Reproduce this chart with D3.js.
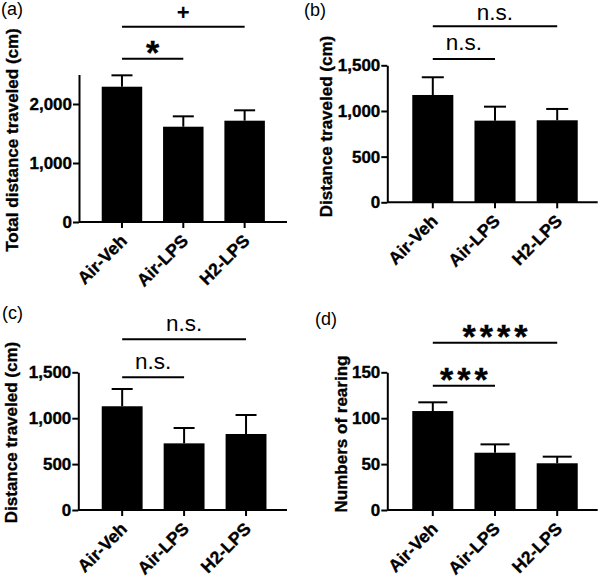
<!DOCTYPE html>
<html><head><meta charset="utf-8">
<script src="https://cdn.jsdelivr.net/npm/d3@7"></script>
<style>
body{margin:0;background:#fff}
svg{display:block}
text{font-family:"Liberation Sans",Arial,Helvetica,sans-serif}
text.heavy{stroke:#000;stroke-width:0.35px}
</style>
</head><body>
<svg id="chart" width="600" height="581"></svg>
<script>
// ---------- data ----------
const categories = ["Air-Veh", "Air-LPS", "H2-LPS"];

const meanA = [2293, 1615, 1717];
const semA  = [193, 176, 176];
const ticksA = [0, 1000, 2000];
const maxA = 2500;

const meanB = [1175, 894, 898];
const semB  = [194, 153, 124];
const ticksB = [0, 500, 1000, 1500];
const maxB = 1500;

const meanC = [1130, 726, 828];
const semC  = [188, 167, 207];
const ticksC = [0, 500, 1000, 1500];
const maxC = 1500;

const meanD = [107.8, 62.4, 50.9];
const semD  = [9.5, 9.1, 7.2];
const ticksD = [0, 50, 100, 150];
const maxD = 150;

const panelLabels = ["(a)", "(b)", "(c)", "(d)"];
const yTitles = ["Total distance traveled (cm)", "Distance traveled (cm)", "Distance traveled (cm)", "Numbers of rearing"];

// significance brackets: [from, to, level (data units), label]
const sigA = [["Air-Veh", "Air-LPS", 2768, "*"], ["Air-Veh", "H2-LPS", 3310, "+"]];
const sigB = [["Air-Veh", "Air-LPS", 1569, "n.s."], ["Air-Veh", "H2-LPS", 1927, "n.s."]];
const sigC = [["Air-Veh", "Air-LPS", 1445, "n.s."], ["Air-Veh", "H2-LPS", 1859, "n.s."]];
const sigD = [["Air-Veh", "Air-LPS", 135.4, "***"], ["Air-Veh", "H2-LPS", 182.2, "****"]];

// ---------- layout ----------
const panels = [
  {mean: meanA, sem: semA, ticks: ticksA, max: maxA, sig: sigA, label: panelLabels[0], title: yTitles[0],
   labelPos: [1, 15], titlePos: [12, 140], axisX: [79, 287], band: [91.3, 275.3], yRange: [222, 74.5], capW: 21},
  {mean: meanB, sem: semB, ticks: ticksB, max: maxB, sig: sigB, label: panelLabels[1], title: yTitles[1],
   labelPos: [304, 16], titlePos: [326, 126.5], axisX: [387.3, 597.7], band: [401.7, 588.3], yRange: [202.3, 65.3], capW: 22},
  {mean: meanC, sem: semC, ticks: ticksC, max: maxC, sig: sigC, label: panelLabels[2], title: yTitles[2],
   labelPos: [2, 319], titlePos: [11, 432.5], axisX: [78.3, 287], band: [91.2, 277], yRange: [510, 372.3], capW: 21},
  {mean: meanD, sem: semD, ticks: ticksD, max: maxD, sig: sigD, label: panelLabels[3], title: yTitles[3],
   labelPos: [315, 324.5], titlePos: [341, 434], axisX: [387.3, 597.7], band: [401.7, 588.3], yRange: [510, 372.3], capW: 29}
];

const svg = d3.select("#chart");
const fmt = d3.format(",");
const FONT = '"Liberation Sans",Arial,sans-serif';

panels.forEach(p => {
  const g = svg.append("g");
  const x = d3.scaleBand().domain(categories).range(p.band).paddingInner(0.34).paddingOuter(0.17);
  const y = d3.scaleLinear().domain([0, p.max]).range(p.yRange);
  const base = y(0);

  // bars
  const rows = categories.map((c, i) => ({c, m: p.mean[i], s: p.sem[i]}));
  g.selectAll("rect.bar").data(rows).join("rect")
    .attr("x", d => x(d.c)).attr("width", x.bandwidth())
    .attr("y", d => y(d.m)).attr("height", d => base - y(d.m))
    .attr("fill", "#000");

  // error bars (upper)
  g.selectAll("line.err").data(rows).join("line")
    .attr("x1", d => x(d.c) + x.bandwidth() / 2).attr("x2", d => x(d.c) + x.bandwidth() / 2)
    .attr("y1", d => y(d.m)).attr("y2", d => y(d.m + d.s))
    .attr("stroke", "#000").attr("stroke-width", 2);
  g.selectAll("line.cap").data(rows).join("line")
    .attr("x1", d => x(d.c) + x.bandwidth() / 2 - p.capW / 2).attr("x2", d => x(d.c) + x.bandwidth() / 2 + p.capW / 2)
    .attr("y1", d => y(d.m + d.s)).attr("y2", d => y(d.m + d.s))
    .attr("stroke", "#000").attr("stroke-width", 2);

  // y axis
  const ya = g.append("g").attr("transform", `translate(${p.axisX[0]},0)`)
    .call(d3.axisLeft(y).tickValues(p.ticks).tickFormat(fmt).tickSize(6).tickSizeOuter(0).tickPadding(1));
  ya.select(".domain").attr("stroke-width", 2);
  ya.selectAll(".tick line").attr("stroke-width", 2);
  ya.selectAll(".tick text").attr("class", "heavy").attr("font-size", 17).attr("font-weight", "bold")
    .attr("font-family", FONT).attr("fill", "#000");

  // x axis
  const xa = g.append("g").attr("transform", `translate(0,${base})`)
    .call(d3.axisBottom(x).tickSize(6).tickSizeOuter(0));
  xa.select(".domain").attr("d", `M${p.axisX[0]},0H${p.axisX[1]}`).attr("stroke-width", 2);
  xa.selectAll(".tick line").attr("stroke-width", 2);
  xa.selectAll(".tick text").attr("class", "heavy").attr("font-size", 17.5).attr("font-weight", "bold")
    .attr("font-family", FONT).attr("fill", "#000")
    .attr("text-anchor", "end").attr("dy", null).attr("y", null)
    .attr("transform", "translate(6,20) rotate(-45)");

  // y title
  g.append("text").attr("class", "heavy")
    .attr("transform", `translate(${p.titlePos[0]},${p.titlePos[1]}) rotate(-90)`)
    .attr("text-anchor", "middle").attr("dy", "0.35em")
    .attr("font-size", 17).attr("font-weight", "bold").text(p.title);

  // panel label
  g.append("text").attr("x", p.labelPos[0]).attr("y", p.labelPos[1])
    .attr("font-size", 18).text(p.label);

  // significance brackets
  p.sig.forEach(([a, b, lvl, t]) => {
    const x1 = x(a) + x.bandwidth() / 2, x2 = x(b) + x.bandwidth() / 2, ly = y(lvl);
    g.append("line").attr("x1", x1).attr("x2", x2).attr("y1", ly).attr("y2", ly)
      .attr("stroke", "#000").attr("stroke-width", 2);
    const cx = (x1 + x2) / 2;
    const txt = g.append("text").attr("text-anchor", "middle").text(t);
    if (t === "n.s.") {
      txt.attr("x", cx).attr("y", Math.max(ly - 8.5, 20)).attr("font-size", 22.5);
    } else if (t === "+") {
      txt.attr("x", cx).attr("y", Math.max(ly - 8, 20)).attr("font-size", 22).attr("font-weight", "bold");
    } else {
      const fs = 34, ls = 4;
      txt.attr("class", "heavy").attr("x", cx + ls / 2).attr("y", ly - 14 + 0.58 * fs).attr("font-size", fs)
        .attr("font-weight", "bold").attr("letter-spacing", ls);
    }
  });
});
</script>
</body></html>
